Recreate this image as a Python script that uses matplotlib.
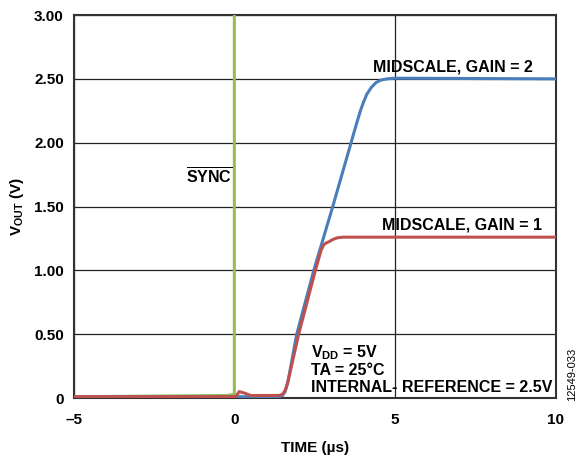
import matplotlib
matplotlib.use('Agg')
import matplotlib.pyplot as plt

plt.rcParams['font.family'] = ['Liberation Sans', 'DejaVu Sans']
plt.rcParams['mathtext.fontset'] = 'custom'
plt.rcParams['mathtext.rm'] = 'Liberation Sans:bold'
plt.rcParams['mathtext.bf'] = 'Liberation Sans:bold'
plt.rcParams['mathtext.it'] = 'Liberation Sans:bold'

# Gain = 2 trace (blue)
t_gain2 = [-5, 0, 1.40, 1.50, 1.58, 1.66, 1.94, 2.47, 3.06, 3.63, 3.80, 3.92, 4.02, 4.12,
           4.25, 4.40, 4.55, 4.75, 5.0, 10]
v_gain2 = [0.01, 0.01, 0.01, 0.02, 0.05, 0.12, 0.50, 1.00, 1.50, 2.00, 2.15, 2.25, 2.32, 2.38,
           2.43, 2.47, 2.49, 2.50, 2.505, 2.50]

# Gain = 1 trace (red)
t_gain1 = [-5, 0, 0.05, 0.15, 0.30, 0.50, 1.40, 1.50, 1.58, 1.66, 1.75, 2.00, 2.52, 2.70,
           2.78, 2.86, 2.95, 3.05, 3.20, 3.40, 10]
v_gain1 = [0.01, 0.01, 0.01, 0.05, 0.04, 0.02, 0.02, 0.03, 0.06, 0.12, 0.22, 0.50, 1.00, 1.16,
           1.20, 1.215, 1.225, 1.24, 1.255, 1.26, 1.26]

# SYNC trace (green)
t_sync = [-5, -0.2, 0, 0, 0]
v_sync = [0.01, 0.02, 0.03, 3.0, 3.0]

x_ticks = [-5, 0, 5, 10]
x_labels = ['\u20135', '0', '5', '10']
y_ticks = [0, 0.5, 1.0, 1.5, 2.0, 2.5, 3.0]
y_labels = ['0', '0.50', '1.00', '1.50', '2.00', '2.50', '3.00']

fig = plt.figure(figsize=(5.82, 4.58), dpi=100)
ax = fig.add_axes([0.1263, 0.131, 0.8290, 0.8362])

ax.plot(t_sync, v_sync, color='#9bbb59', lw=2.2, zorder=3)
ax.plot(t_gain2, v_gain2, color='#4a7ebb', lw=2.2, zorder=4)
ax.plot(t_gain1, v_gain1, color='#c0504d', lw=2.2, zorder=5)

ax.set_xlim(-5, 10)
ax.set_ylim(0, 3.0)
ax.set_xticks(x_ticks)
ax.set_xticklabels(x_labels)
ax.set_yticks(y_ticks)
ax.set_yticklabels(y_labels)
ax.tick_params(length=0, labelsize=11)
ax.tick_params(axis='x', pad=11)
ax.tick_params(axis='y', pad=7)
for lbl in ax.get_xticklabels() + ax.get_yticklabels():
    lbl.set_fontweight('bold')
ax.grid(True, color='#222222', lw=0.9)
ax.set_axisbelow(True)
for s in ax.spines.values():
    s.set_color('#333333')
    s.set_linewidth(1.5)

ax.set_xlabel('TIME (\u00b5s)', fontsize=11, fontweight='bold', labelpad=10)
ax.set_ylabel(r'$\mathbf{V_{OUT}}$ (V)', fontsize=11, fontweight='bold', labelpad=6)

fs = 11.5
ax.text(4.30, 2.56, 'MIDSCALE, GAIN = 2', fontsize=fs, fontweight='bold')
ax.text(4.60, 1.32, 'MIDSCALE, GAIN = 1', fontsize=fs, fontweight='bold')
ax.text(-1.50, 1.68, r'$\overline{\mathbf{SYNC}}$', fontsize=fs)
ax.text(2.38, 0.32, r'$\mathbf{V_{DD}}$ = 5V', fontsize=fs, fontweight='bold')
ax.text(2.38, 0.18, 'TA = 25\u00b0C', fontsize=fs, fontweight='bold')
ax.text(2.38, 0.05, 'INTERNAL- REFERENCE = 2.5V', fontsize=fs, fontweight='bold')

fig.text(0.983, 0.183, '12549-033', rotation=90, fontsize=8, ha='center', va='center')

fig.savefig('out.png', dpi=100)
